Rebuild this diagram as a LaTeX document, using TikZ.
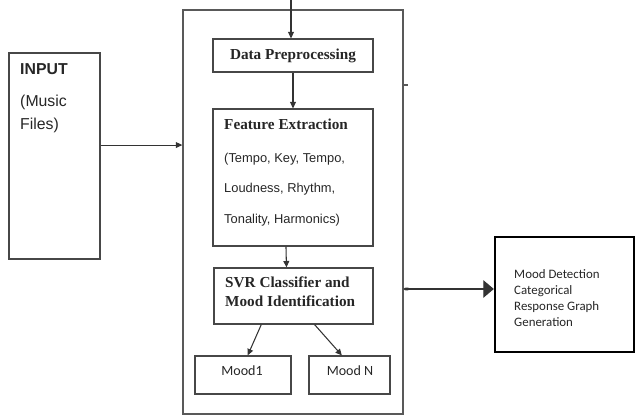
\documentclass[tikz,border=0pt]{standalone}
\usepackage{fontspec}
\setmainfont{Liberation Serif}
\setsansfont{Liberation Sans}
\newfontfamily\calibri{Carlito}
\usetikzlibrary{arrows.meta}

\begin{document}
\begin{tikzpicture}[x=0.03cm,y=-0.03cm,
  box/.style={draw=black!72,line width=1pt,inner sep=0pt},
  arr/.style={draw=black!80,line width=0.9pt,-{Triangle[length=5.5pt,width=5pt]}},
  lbl/.style={anchor=base west,inner sep=0pt,text=black!85},
  serifb/.style={font=\fontsize{13}{15}\selectfont\bfseries},
  sansb/.style={font=\sffamily\fontsize{13.5}{16}\selectfont\bfseries},
  sansi/.style={font=\sffamily\fontsize{13.5}{16}\selectfont},
  sansf/.style={font=\sffamily\fontsize{11}{13}\selectfont},
  calib/.style={font=\calibri\fontsize{11}{13}\selectfont}]
\useasboundingbox (0,0) rectangle (636,416);

\node[box,draw=black!65,line width=1.2pt,minimum width=6.6cm,minimum height=12.12cm] (main) at (293,212) {};
\node[box,minimum width=2.73cm,minimum height=6.18cm] (inp) at (54.5,156) {};
\node[box,serifb,text=black!85,minimum width=4.8cm,minimum height=0.99cm] (dp) at (293,55.5) {Data Preprocessing};
\node[box,minimum width=4.8cm,minimum height=4.11cm] (fe) at (293,177.5) {};
\node[box,minimum width=4.77cm,minimum height=1.68cm] (svr) at (293.5,296) {};
\node[box,minimum width=2.88cm,minimum height=1.14cm] (mood1) at (243,375) {};
\node[box,minimum width=2.43cm,minimum height=1.14cm] (moodn) at (349.5,375) {};
\node[box,draw=black,line width=2pt,minimum width=4.17cm,minimum height=3.45cm] (res) at (564.5,294.5) {};

\node[lbl,sansb] (inpt) at (20,74) {INPUT};
\node[lbl,sansi] (inp1) at (20,106) {(Music};
\node[lbl,sansi] (inp2) at (20,129) {Files)};
\node[lbl,serifb] (fet) at (224,129) {Feature Extraction};
\node[lbl,sansf] (fe1) at (224,162) {(Tempo, Key, Tempo,};
\node[lbl,sansf] (fe2) at (224,192) {Loudness, Rhythm,};
\node[lbl,sansf] (fe3) at (224,223) {Tonality, Harmonics)};
\node[lbl,serifb] (svr1) at (225,287) {SVR Classifier and};
\node[lbl,serifb] (svr2) at (225,306) {Mood Identification};
\node[lbl,anchor=base,font=\calibri\fontsize{12}{14}\selectfont] (m1t) at (242,375) {Mood1};
\node[lbl,anchor=base,font=\calibri\fontsize{12}{14}\selectfont] (mnt) at (350,375) {Mood N};
\node[lbl,calib] (r1) at (514,278.5) {Mood Detection};
\node[lbl,calib] (r2) at (514,294.5) {Categorical};
\node[lbl,calib] (r3) at (514,310.5) {Response Graph};
\node[lbl,calib] (r4) at (514,326.5) {Generation};

\coordinate (top) at (291,0);
\coordinate (tick) at (408,85);
\draw[arr] (top) -- (top |- dp.north);
\draw[arr] (dp.south) -- (fe.north);
\draw[arr] ([xshift=-6pt]fe.south) -- ([xshift=-6pt]svr.north);
\draw[arr] ([xshift=-27.5pt]svr.south) -- ([xshift=4pt]mood1.north);
\draw[arr] ([xshift=18pt]svr.south) -- ([xshift=-6.5pt]moodn.north);
\draw[arr] ([yshift=9.35pt]inp.east) -- ([yshift=9.35pt]inp.east -| main.west);
\draw[draw=black!80,line width=0.9pt,{Ellipse[length=5pt,width=2.5pt]}-{Triangle[length=9pt,width=15pt]}]
  ([yshift=4.7pt]res.west -| main.east) -- ([yshift=4.7pt]res.west);
\draw[black!65,line width=1pt] (tick -| main.east) -- (tick);
\end{tikzpicture}
\end{document}
